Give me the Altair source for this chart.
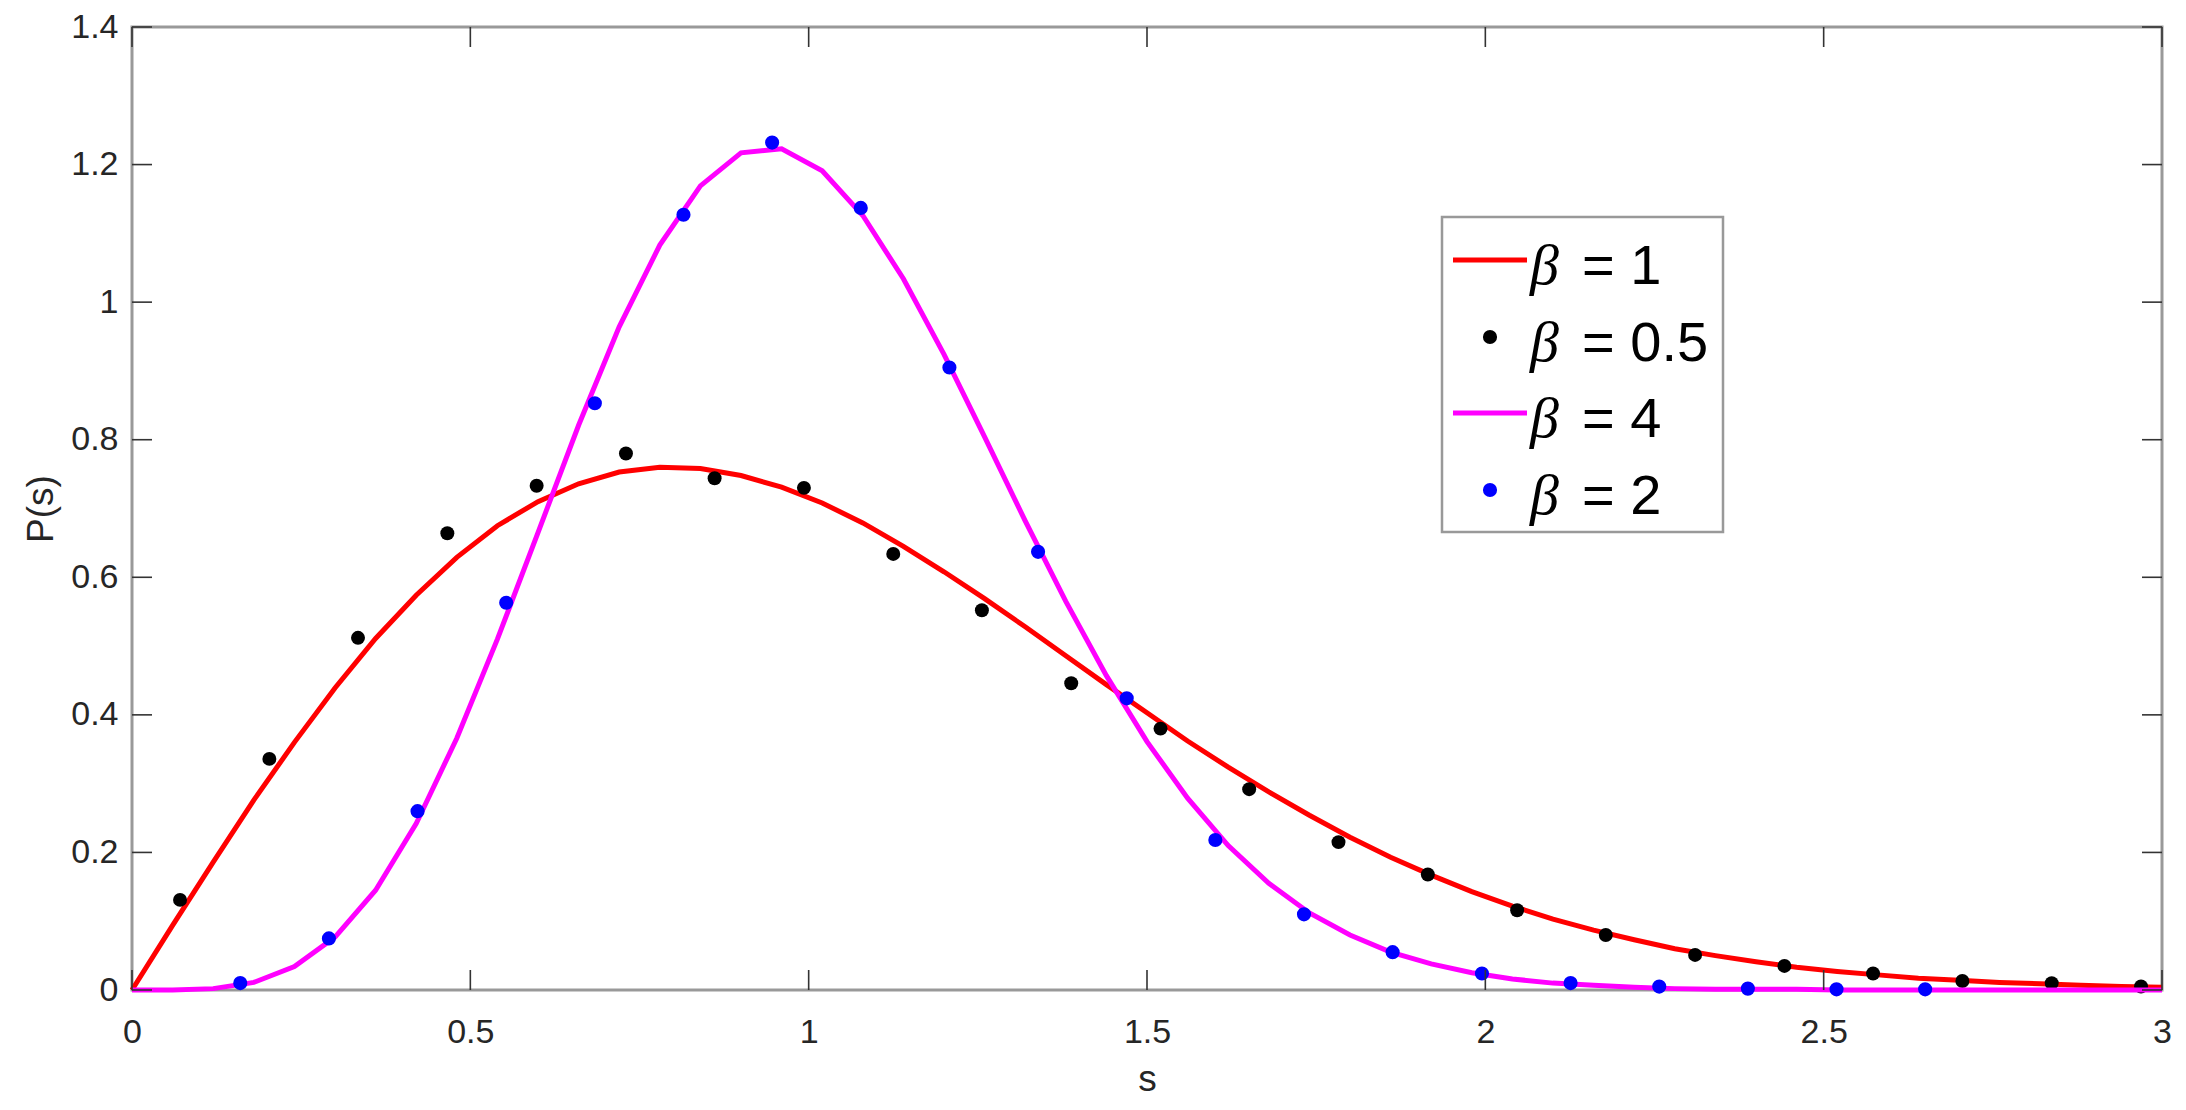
import altair as alt
import pandas as pd

# ---------------- data ----------------
s_curve = [0.00, 0.06, 0.12, 0.18, 0.24, 0.30, 0.36, 0.42, 0.48, 0.54,
           0.60, 0.66, 0.72, 0.78, 0.84, 0.90, 0.96, 1.02, 1.08, 1.14,
           1.20, 1.26, 1.32, 1.38, 1.44, 1.50, 1.56, 1.62, 1.68, 1.74,
           1.80, 1.86, 1.92, 1.98, 2.04, 2.10, 2.16, 2.22, 2.28, 2.34,
           2.40, 2.46, 2.52, 2.58, 2.64, 2.70, 2.76, 2.82, 2.88, 2.94, 3.00]

p_beta1 = [0.000, 0.094, 0.186, 0.276, 0.360, 0.439, 0.511, 0.574, 0.629, 0.675,
           0.710, 0.736, 0.753, 0.760, 0.758, 0.748, 0.731, 0.708, 0.679, 0.645,
           0.608, 0.569, 0.528, 0.486, 0.444, 0.403, 0.362, 0.324, 0.288, 0.254,
           0.222, 0.193, 0.167, 0.143, 0.122, 0.103, 0.087, 0.073, 0.060, 0.050,
           0.041, 0.033, 0.027, 0.022, 0.017, 0.014, 0.011, 0.009, 0.007, 0.005, 0.004]

p_beta4 = [0.000, 0.000, 0.002, 0.011, 0.034, 0.077, 0.145, 0.242, 0.366, 0.510,
           0.665, 0.821, 0.964, 1.083, 1.169, 1.217, 1.223, 1.191, 1.126, 1.034,
           0.924, 0.804, 0.682, 0.565, 0.457, 0.361, 0.279, 0.210, 0.155, 0.112,
           0.080, 0.055, 0.038, 0.025, 0.016, 0.010, 0.007, 0.004, 0.002, 0.001,
           0.001, 0.001, 0.000, 0.000, 0.000, 0.000, 0.000, 0.000, 0.000, 0.000, 0.000]

s_beta05 = [0.071, 0.203, 0.334, 0.466, 0.598, 0.730, 0.861, 0.993, 1.125, 1.256,
            1.388, 1.520, 1.651, 1.783, 1.915, 2.047, 2.178, 2.310, 2.442, 2.573,
            2.705, 2.837, 2.969]
p_beta05 = [0.131, 0.336, 0.512, 0.664, 0.733, 0.780, 0.744, 0.730, 0.634, 0.552,
            0.446, 0.380, 0.292, 0.215, 0.168, 0.116, 0.080, 0.051, 0.035, 0.024,
            0.013, 0.010, 0.005]

s_beta2 = [0.160, 0.291, 0.422, 0.553, 0.684, 0.815, 0.946, 1.077, 1.208, 1.339,
           1.470, 1.601, 1.732, 1.863, 1.995, 2.126, 2.257, 2.388, 2.519, 2.650]
p_beta2 = [0.010, 0.075, 0.260, 0.563, 0.853, 1.127, 1.232, 1.137, 0.905, 0.637,
           0.424, 0.218, 0.110, 0.055, 0.024, 0.010, 0.005, 0.002, 0.001, 0.001]

x_ticks = [0, 0.5, 1, 1.5, 2, 2.5, 3]
y_ticks = [0, 0.2, 0.4, 0.6, 0.8, 1.0, 1.2, 1.4]

legend_text = ["= 1", "= 0.5", "= 4", "= 2"]
legend_kind = ["line", "point", "line", "point"]
legend_color = ["#ff0000", "#000000", "#ff00ff", "#0000ff"]

# ---------------- layout / style ----------------
W, H = 2030, 963
FONT = "Liberation Sans"
TXT = "#262626"
TICK_LEN = 20

xscale = alt.Scale(domain=[0, 3], nice=False, zero=False)
yscale = alt.Scale(domain=[0, 1.4], nice=False, zero=False)

xaxis = alt.Axis(title="s", values=x_ticks, format="~g", ticks=False, domain=False,
                 grid=False, labelPadding=25, labelFlush=False, labelOverlap=False,
                 labelFontSize=34, labelFont=FONT, labelColor=TXT,
                 titleFont=FONT, titleFontSize=37, titleFontWeight="normal",
                 titleColor=TXT, titleY=100, titleBaseline="alphabetic")
yaxis = alt.Axis(title="P(s)", values=y_ticks, format="~g", ticks=False, domain=False,
                 grid=False, labelPadding=14, labelFlush=False, labelOverlap=False,
                 labelFontSize=34, labelFont=FONT, labelColor=TXT,
                 titleFont=FONT, titleFontSize=37, titleFontWeight="normal",
                 titleColor=TXT, titleX=-80, titleBaseline="alphabetic")

X = alt.X("s:Q", scale=xscale, axis=xaxis)
Y = alt.Y("p:Q", scale=yscale, axis=yaxis)

df1 = pd.DataFrame({"s": s_curve, "p": p_beta1})
df4 = pd.DataFrame({"s": s_curve, "p": p_beta4})
df05 = pd.DataFrame({"s": s_beta05, "p": p_beta05})
df2 = pd.DataFrame({"s": s_beta2, "p": p_beta2})

red = alt.Chart(df1).mark_line(color="#ff0000", strokeWidth=5).encode(x=X, y=Y)
black = alt.Chart(df05).mark_circle(color="#000000", size=195, opacity=1).encode(x=X, y=Y)
mag = alt.Chart(df4).mark_line(color="#ff00ff", strokeWidth=5).encode(x=X, y=Y)
blue = alt.Chart(df2).mark_circle(color="#0000ff", size=200, opacity=1).encode(x=X, y=Y)

xt = pd.DataFrame({"s": x_ticks})
yt = pd.DataFrame({"p": y_ticks})
tick_style = dict(color="#333333", strokeWidth=1.6)
xt_bottom = alt.Chart(xt).mark_rule(**tick_style).encode(
    x=X, y=alt.value(H), y2=alt.value(H - TICK_LEN))
xt_top = alt.Chart(xt).mark_rule(**tick_style).encode(
    x=X, y=alt.value(0), y2=alt.value(TICK_LEN))
yt_left = alt.Chart(yt).mark_rule(**tick_style).encode(
    y=Y, x=alt.value(0), x2=alt.value(TICK_LEN))
yt_right = alt.Chart(yt).mark_rule(**tick_style).encode(
    y=Y, x=alt.value(W), x2=alt.value(W - TICK_LEN))

# ---------------- legend (drawn by hand, MATLAB style) ----------------
one = pd.DataFrame({"k": [0]})
LX0, LX1, LY0, LY1 = 1310, 1591, 190, 505
row_y = [233, 310, 386, 463]
legend_layers = [
    alt.Chart(one).mark_rect(fill="white", stroke="#999999", strokeWidth=2.5).encode(
        x=alt.value(LX0), x2=alt.value(LX1), y=alt.value(LY0), y2=alt.value(LY1))
]
for txt, kind, col, ry in zip(legend_text, legend_kind, legend_color, row_y):
    if kind == "line":
        legend_layers.append(alt.Chart(one).mark_rule(color=col, strokeWidth=5).encode(
            x=alt.value(1321), x2=alt.value(1395), y=alt.value(ry)))
    else:
        legend_layers.append(alt.Chart(one).mark_circle(color=col, size=200, opacity=1).encode(
            x=alt.value(1358), y=alt.value(ry)))
    legend_layers.append(alt.Chart(one).mark_text(
        text="β", font="Liberation Serif", fontStyle="italic", fontSize=58,
        align="left", baseline="alphabetic", color="#000000").encode(
        x=alt.value(1398), y=alt.value(ry + 24)))
    legend_layers.append(alt.Chart(one).mark_text(
        text=txt, font=FONT, fontSize=56, align="left", baseline="alphabetic",
        color="#000000").encode(x=alt.value(1450), y=alt.value(ry + 24)))

chart = alt.layer(red, black, mag, blue, xt_bottom, xt_top, yt_left, yt_right,
                  *legend_layers).properties(
    width=W, height=H,
    autosize=alt.AutoSizeParams(type="none"),
    padding={"left": 124, "top": 19, "right": 16, "bottom": 114},
    background="white",
).configure_view(stroke="#999999", strokeWidth=3)

chart.save("out.html", embed_options={"renderer": "svg", "actions": False})
